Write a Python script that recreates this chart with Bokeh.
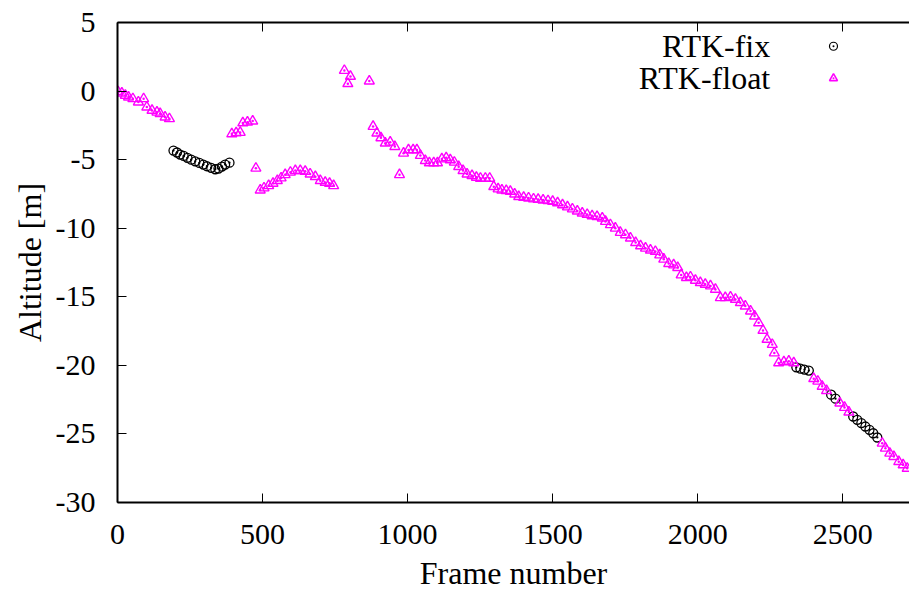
from bokeh.plotting import figure
from bokeh.models import LinearAxis, FixedTicker, Range1d
from bokeh.core.properties import value
from bokeh.embed import file_html
from bokeh.resources import INLINE

# RTK-float samples (frame, altitude)
float_frame = [2, 15, 27, 38, 53, 72, 90, 101, 119, 136, 147, 164, 179,
               394, 409, 423, 432, 448, 466, 477,
               492, 505, 521, 536, 551, 564, 578, 596, 613, 630, 647, 664, 682, 699, 716, 731, 745,
               782, 794, 803, 868,
               881, 894, 908, 923, 940, 956, 972, 986, 1003, 1019, 1032, 1044, 1061, 1075, 1090, 1103,
               1118, 1133, 1147, 1161, 1176, 1191, 1205, 1222, 1237, 1251, 1268, 1283, 1297, 1312, 1325,
               1340, 1354, 1369, 1383, 1400, 1417, 1434, 1450, 1467, 1484, 1500, 1517, 1534, 1551, 1568,
               1585, 1602, 1619, 1636, 1653,
               1671, 1682, 1699, 1716, 1733, 1751, 1768, 1786, 1803, 1820, 1837, 1854, 1869, 1883, 1900,
               1917, 1931, 1943, 1961, 1975, 1992, 2009, 2026, 2044, 2061, 2078, 2095, 2113, 2130, 2147,
               2164, 2182, 2196, 2210, 2225, 2239, 2257, 2264, 2279, 2297, 2314, 2331,
               2400, 2414, 2429, 2444,
               2490, 2506, 2521,
               2636, 2647, 2662, 2676, 2693, 2708, 2722]
float_alt = [-0.05, -0.15, -0.31, -0.44, -0.56, -0.8, -0.56, -1.17, -1.41, -1.54, -1.65, -1.9, -2.02,
             -3.12, -3.05, -3.02, -2.32, -2.27, -2.19, -5.63,
             -7.22, -7.07, -6.9, -6.73, -6.53, -6.34, -6.1, -5.92, -5.8, -5.8, -5.85, -6.05, -6.24, -6.53, -6.66, -6.73, -6.9,
             1.5, 0.54, 1.07, 0.73,
             -2.58, -3.07, -3.41, -3.8, -3.73, -4.05, -6.1, -4.53, -4.29, -4.29, -4.29, -4.7, -5.07, -5.24, -5.24, -5.24,
             -4.95, -4.87, -5.02, -5.19, -5.51, -5.8, -6.05, -6.17, -6.29, -6.36, -6.36, -6.36, -6.97, -7.14, -7.22,
             -7.26, -7.32, -7.51, -7.7, -7.75, -7.8, -7.87, -7.9, -7.95, -8.0, -8.05, -8.15, -8.3, -8.45, -8.6,
             -8.75, -8.9, -9.0, -9.1, -9.15,
             -9.26, -9.51, -9.75, -10.0, -10.31, -10.48, -10.72, -11.05, -11.29, -11.46, -11.6, -11.7, -11.95, -12.26, -12.58,
             -12.68, -12.87, -13.41, -13.6, -13.56, -13.8, -13.97, -14.09, -14.21, -14.46, -15.07, -15.07, -15.02, -15.19, -15.43,
             -15.68, -16.04, -16.41, -16.9, -17.45, -18.11, -18.48, -19.1, -19.82, -19.75, -19.7, -19.82,
             -20.97, -21.16, -21.53, -21.84,
             -22.75, -23.07, -23.41,
             -25.68, -26.04, -26.41, -26.65, -27.02, -27.26, -27.51]

# RTK-fix samples (frame, altitude)
fix_frame = [193, 205, 216, 228, 241, 254, 268, 282, 296, 308, 323, 337, 348, 360, 371, 386,
             2340, 2354, 2368, 2383,
             2460, 2475,
             2536, 2550, 2564, 2578, 2592, 2605, 2619]
fix_alt = [-4.34, -4.48, -4.63, -4.73, -4.87, -5.0, -5.12, -5.24, -5.36, -5.48, -5.6, -5.7, -5.65, -5.51, -5.36, -5.22,
           -20.14, -20.24, -20.31, -20.38,
           -22.14, -22.43,
           -23.73, -23.97, -24.21, -24.46, -24.7, -24.95, -25.26]

x_ticks = [0, 500, 1000, 1500, 2000, 2500]
y_ticks = [-30, -25, -20, -15, -10, -5, 0, 5]
series_names = ["RTK-fix", "RTK-float"]

FONT = "Liberation Serif"
MAGENTA = "#ff00ff"

p = figure(width=909, height=595, output_backend="svg", toolbar_location=None,
           x_range=Range1d(0, 2730), y_range=Range1d(-30, 5),
           min_border_left=117, min_border_right=0, min_border_top=22, min_border_bottom=93,
           x_axis_label="Frame number", y_axis_label="Altitude [m]")
p.grid.visible = False
p.outline_line_color = None
p.background_fill_color = "white"
p.border_fill_color = "white"

p.xaxis.ticker = FixedTicker(ticks=x_ticks)
p.yaxis.ticker = FixedTicker(ticks=y_ticks)
p.xaxis.major_label_overrides = {t: str(t) for t in x_ticks}
p.yaxis.major_label_overrides = {t: str(t) for t in y_ticks}
for ax in p.xaxis + p.yaxis:
    ax.axis_line_color = "black"
    ax.axis_line_width = 2
    ax.major_tick_in = 9
    ax.major_tick_out = 0
    ax.major_tick_line_color = "black"
    ax.major_tick_line_width = 1
    ax.minor_tick_line_color = None
    ax.major_label_text_font = FONT
    ax.major_label_text_font_size = "30px"
    ax.major_label_text_color = "black"
    ax.axis_label_text_font = FONT
    ax.axis_label_text_font_size = "32px"
    ax.axis_label_text_font_style = "normal"
    ax.axis_label_text_color = "black"

p.xaxis.major_label_standoff = 22
p.xaxis.axis_label_standoff = 8
p.yaxis.major_label_standoff = 22
p.yaxis.axis_label_standoff = 5

top = LinearAxis(ticker=FixedTicker(ticks=x_ticks), major_label_overrides={t: "" for t in x_ticks},
                 major_label_text_font_size="1px",
                 major_label_standoff=0, major_tick_in=9, major_tick_out=0,
                 axis_line_width=2, axis_line_color="black", minor_tick_line_color=None,
                 major_tick_line_color="black")
p.add_layout(top, "above")

p.scatter(fix_frame, fix_alt, marker="circle_dot", size=9, fill_color=None,
          line_color="black", line_width=1.3)
p.scatter(float_frame, float_alt, marker="triangle_dot", size=10, fill_color=None,
          line_color=MAGENTA, line_width=1.4)

# key (text on the left, symbol on the right, as in the original)
leg_text_x = [2250, 2250]
leg_sym_x = [2468, 2468]
leg_y = [3.27, 0.93]
p.text(leg_text_x, leg_y, text=series_names, text_align="right", text_baseline="middle",
       text_font=value(FONT), text_font_size="32px", text_color="black")
p.scatter(leg_sym_x[:1], leg_y[:1], marker="circle_dot", size=8, fill_color=None,
          line_color="black", line_width=1.2)
p.scatter(leg_sym_x[1:], leg_y[1:], marker="triangle_dot", size=8, fill_color=None,
          line_color=MAGENTA, line_width=1.6)

open("out.html", "w").write(file_html(p, INLINE))
